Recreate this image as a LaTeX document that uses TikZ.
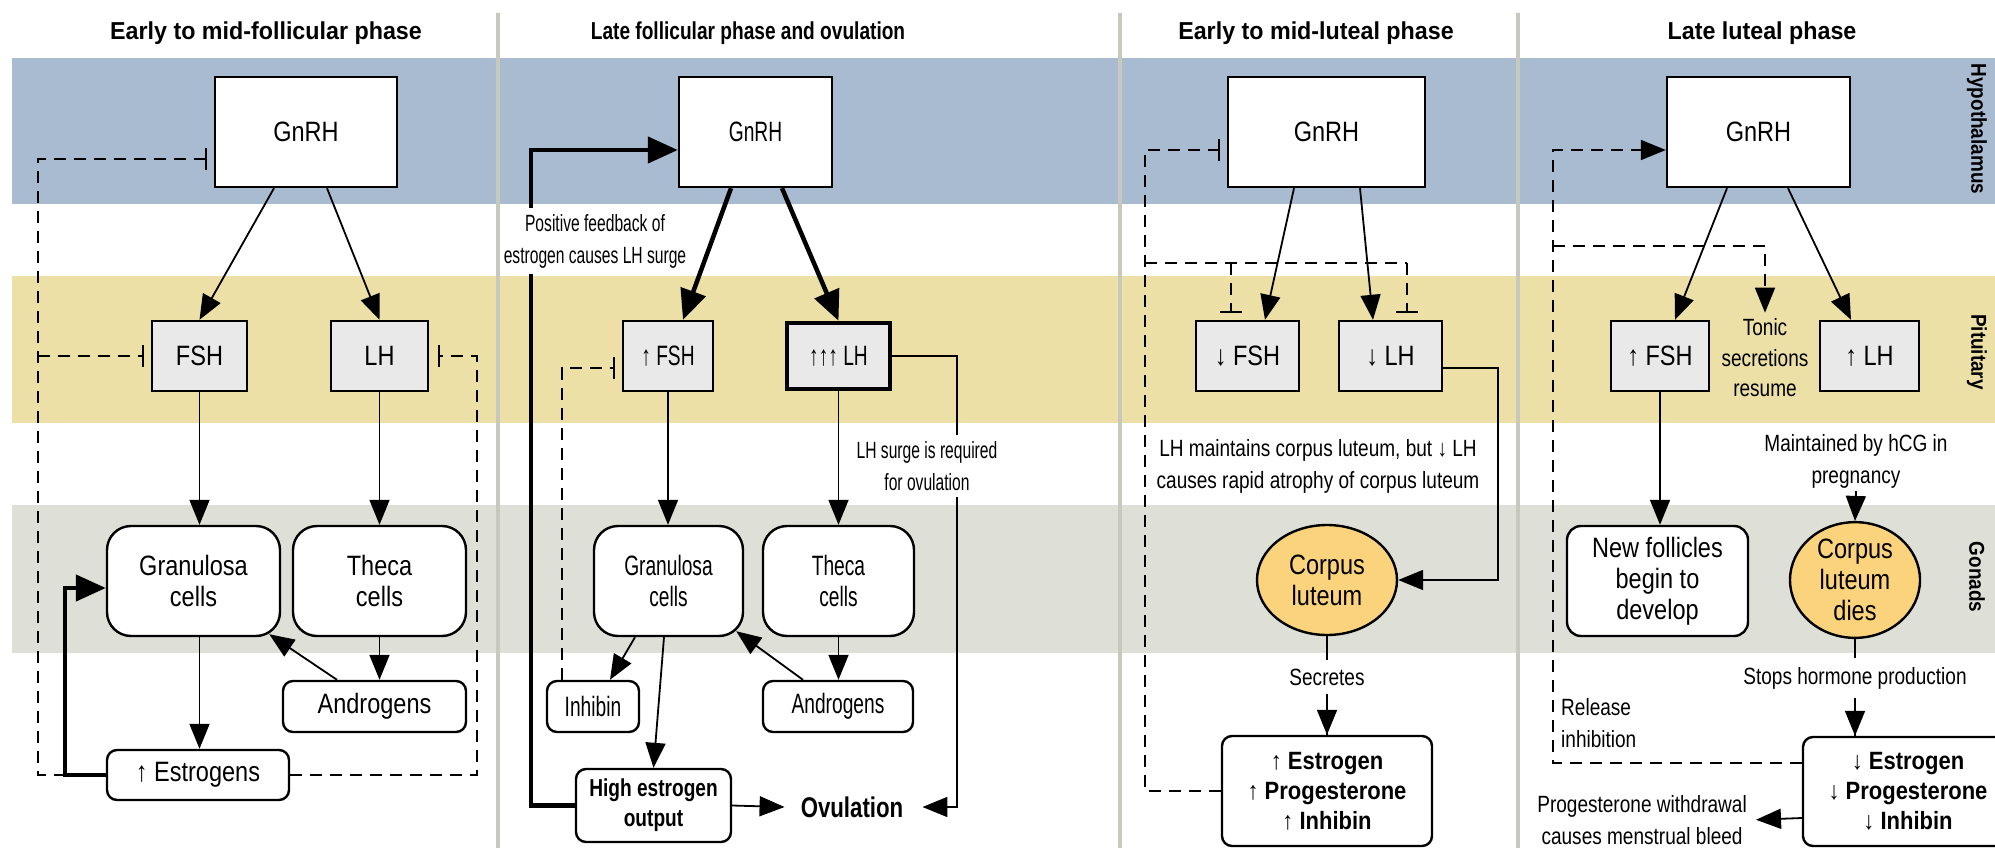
\documentclass[tikz,border=0pt]{standalone}
\usepackage{fontspec}
\usetikzlibrary{arrows.meta,calc,shapes.geometric}
\newfontfamily\fnN[FakeStretch=0.84]{Liberation Sans}
\newfontfamily\fnC[FakeStretch=0.685]{Liberation Sans}
\newfontfamily\fnLC[FakeStretch=0.665]{Liberation Sans}
\newfontfamily\fnL[FakeStretch=0.81]{Liberation Sans}
\newfontfamily\fnT[FakeStretch=0.95]{Liberation Sans}
\newfontfamily\fnTC[FakeStretch=0.78]{Liberation Sans}
\newfontfamily\fnB[FakeStretch=0.88]{Liberation Sans}
\newfontfamily\fnS[FakeStretch=0.88]{Liberation Sans}
\definecolor{bandblue}{RGB}{169,187,209}
\definecolor{bandyellow}{RGB}{236,224,167}
\definecolor{bandgray}{RGB}{222,223,214}
\definecolor{divgray}{RGB}{200,201,190}
\definecolor{boxgray}{RGB}{233,233,233}
\definecolor{corpus}{RGB}{251,211,125}
\begin{document}
\begin{tikzpicture}[x=1pt,y=-1pt,
 box/.style={draw, line width=2.4pt, inner sep=0pt, align=center, fill=white},
 gbox/.style={box, fill=boxgray},
 cell/.style={box, rounded corners=24pt},
 rbox/.style={box, rounded corners=10pt},
 sz/.style 2 args={minimum width=#1pt, minimum height=#2pt},
 fN/.style={font=\fnN\fontsize{28}{31}\selectfont},
 fC/.style={font=\fnC\fontsize{28}{31}\selectfont},
 fL/.style={font=\fnL\fontsize{23.5}{32}\selectfont, align=center, inner sep=3pt},
 fLC/.style={font=\fnLC\fontsize{23.5}{32}\selectfont, align=center, inner sep=3pt},
 fB/.style={font=\fnB\bfseries\fontsize{25}{30}\selectfont},
 ttl/.style={font=\fnT\bfseries\fontsize{24.5}{26}\selectfont},
 ttlc/.style={font=\fnTC\bfseries\fontsize{24.5}{26}\selectfont},
 side/.style={font=\fnS\bfseries\fontsize{21.5}{22}\selectfont, rotate=-90},
 arr/.style={line width=1.8pt, -{Triangle[length=25pt,width=20pt]}},
 tarr/.style={line width=4.5pt, -{Triangle[length=30pt,width=26pt]}},
 dline/.style={line width=1.8pt, dash pattern=on 12pt off 8pt},
 inh/.style={dline, -{Bar[width=22pt]}, shorten >=7pt},
 darr/.style={dline, -{Triangle[length=25pt,width=20pt]}},
 divider/.style={line width=3.5pt, draw=divgray},
]
\useasboundingbox (0,0) rectangle (1995,848);
\clip (0,0) rectangle (1995,848);
% bands
\fill[bandblue] (12,58) rectangle (1995,204);
\fill[bandyellow] (12,276) rectangle (1995,423);
\fill[bandgray] (12,505) rectangle (1995,653);
% dividers
\draw[divider] (498,13) -- (498,848);
\draw[divider] (1120,13) -- (1120,848);
\draw[divider] (1518,13) -- (1518,848);
% titles
\node[ttl] (t1) at (266,33) {Early to mid-follicular phase};
\node[ttlc] (t2) at (748,33) {Late follicular phase and ovulation};
\node[ttl] (t3) at (1316,33) {Early to mid-luteal phase};
\node[ttl] (t4) at (1762,33) {Late luteal phase};
% side labels
\node[side] (sh) at (1977,129) {Hypothalamus};
\node[side] (sp) at (1977,352) {Pituitary};
\node[side] (sg) at (1977,577) {Gonads};

% ===== Panel 1 =====
\node[box, sz={182}{110}, fN] (g1) at (306,132) {GnRH};
\node[gbox, sz={95}{70}, fN] (f1) at (199.5,356) {FSH};
\node[gbox, sz={97}{70}, fN] (l1) at (379.5,356) {LH};
\node[cell, sz={173}{110}, fN] (gr1) at (193.5,581) {Granulosa\\cells};
\node[cell, sz={173}{110}, fN] (th1) at (379.5,581) {Theca\\cells};
\node[rbox, sz={183}{51}, fN] (an1) at (374.5,706.5) {Androgens};
\node[rbox, sz={182}{50}, fN] (es1) at (198,775) {↑ Estrogens};
\coordinate (j1a) at (38,775);
\coordinate (j1b) at (38,356);
\coordinate (j1c) at (477,775);
\coordinate (j1d) at (65,775);
\draw[arr] ([xshift=-32pt]g1.south) -- (f1.north);
\draw[arr] ([xshift=21pt]g1.south) -- (l1.north);
\draw[arr] (f1.south) -- (f1.south |- gr1.north);
\draw[arr] (l1.south) -- (th1.north);
\draw[arr] (f1.south |- gr1.south) -- (f1.south |- es1.north);
\draw[arr] (th1.south) -- (th1.south |- an1.north);
\draw[arr] ([xshift=-37.5pt]an1.north) -- ([xshift=-12pt,yshift=3pt]gr1.south east);
\draw[inh] (es1.west) -- (j1a) |- ([yshift=-27pt]g1.west);
\draw[inh] (j1b) -- (f1.west);
\draw[inh] (es1.east) -- (j1c) |- ([xshift=2pt]l1.east);
\draw[tarr] (es1.west) -- (j1d) |- ([yshift=-7pt]gr1.west);

% ===== Panel 2 =====
\node[box, sz={153}{110}, fC] (g2) at (755.5,132) {GnRH};
\node[gbox, sz={90}{70}, fC] (f2) at (668,356) {↑ FSH};
\node[gbox, line width=4.5pt, sz={103}{66}, fC] (l2) at (838.5,356) {↑↑↑ LH};
\node[cell, sz={149}{110}, fC] (gr2) at (668.5,581) {Granulosa\\cells};
\node[cell, sz={151}{110}, fC] (th2) at (838.5,581) {Theca\\cells};
\node[rbox, sz={92}{51}, fC] (in2) at (593,706.5) {Inhibin};
\node[rbox, sz={150}{51}, fC] (an2) at (838,706.5) {Androgens};
\node[rbox, sz={155}{73}, font=\fnTC\bfseries\fontsize{24.5}{30}\selectfont] (he2) at (653.5,805.5) {High estrogen\\output};
\node[font=\fnTC\bfseries\fontsize{28.5}{30}\selectfont, inner sep=2pt] (ov) at (852,807) {Ovulation};
\draw[tarr] ([xshift=-24.5pt]g2.south) -- ([xshift=15pt]f2.north);
\draw[tarr] ([xshift=26.5pt]g2.south) -- (l2.north);
\draw[arr] (f2.south) -- (f2.south |- gr2.north);
\draw[arr] (l2.south) -- (th2.north);
\draw[arr] (th2.south) -- (th2.south |- an2.north);
\draw[arr] ([xshift=-33.5pt]gr2.south) -- ([xshift=17pt]in2.north);
\draw[arr] ([xshift=-4.5pt]gr2.south) -- (he2.north);
\draw[arr] ([xshift=-35pt]an2.north) -- ([xshift=-8pt,yshift=6pt]gr2.south east);
\draw[arr] (he2.east) -- ([xshift=-14pt]ov.west);
\draw[arr] (l2.east) -- ++(65,0) |- ([xshift=17pt]ov.east);
\draw[inh] ([xshift=-31pt]in2.north) |- ([yshift=-12pt]f2.west);
\draw[tarr] (he2.west) -- ++(-44,0) |- ([yshift=-18pt]g2.west);
\node[fLC, fill=white, inner ysep=6pt] (lab2a) at (595,241) {Positive feedback of\\estrogen causes LH surge};
\node[fLC, fill=white, inner ysep=6pt] (lab2b) at (927,466) {LH surge is required\\for ovulation};

% ===== Panel 3 =====
\node[box, sz={197}{110}, fN] (g3) at (1326.5,132) {GnRH};
\node[gbox, sz={103}{70}, fN] (f3) at (1247.5,356) {↓ FSH};
\node[gbox, sz={103}{70}, fN] (l3) at (1390.5,356) {↓ LH};
\node[ellipse, draw, line width=2.4pt, fill=corpus, inner sep=0pt, sz={140}{110}, fN, align=center] (cl3) at (1327,580) {Corpus\\luteum};
\node[rbox, sz={210}{110}, fB] (e3) at (1327,791) {↑ Estrogen\\↑ Progesterone\\↑ Inhibin};
\node[fL] (lab3) at (1318,466) {LH maintains corpus luteum, but ↓ LH\\causes rapid atrophy of corpus luteum};
\coordinate (j3a) at (1145,791);
\coordinate (j3b) at (1145,263);
\coordinate (j3c) at (1231,263);
\coordinate (j3d) at (1407,263);
\draw[arr] ([xshift=-32.5pt]g3.south) -- ([xshift=17.5pt]f3.north);
\draw[arr] ([xshift=33.5pt]g3.south) -- ([xshift=-17.5pt]l3.north);
\draw[arr] ([yshift=-12pt]l3.east) -- ++(55,0) |- (cl3.east);
\draw[inh] (e3.west) -- (j3a) |- ([yshift=-18pt]g3.west);
\draw[dline] (j3b) -- (j3d);
\draw[inh] (j3c) -- ([xshift=-16.5pt]f3.north);
\draw[inh] (j3d) -- ([xshift=16.5pt]l3.north);
\draw[line width=1.8pt] (cl3.south) -- (cl3.south |- e3.north);
\node[fL, fill=white, inner ysep=9pt] (sec3) at (1327,677) {Secretes};
\draw[arr] (sec3.south) -- (sec3.south |- e3.north);

% ===== Panel 4 =====
\node[box, sz={183}{110}, fN] (g4) at (1758.5,132) {GnRH};
\node[gbox, sz={98}{70}, fN] (f4) at (1660,356) {↑ FSH};
\node[gbox, sz={99}{70}, fN] (l4) at (1869.5,356) {↑ LH};
\node[fL, font=\fnL\fontsize{23.5}{30.5}\selectfont] (ts4) at (1765,358) {Tonic\\secretions\\resume};
\node[box, rounded corners=14pt, sz={181}{110}, fN] (nf4) at (1657.5,581) {New follicles\\begin to\\develop};
\node[ellipse, draw, line width=2.4pt, fill=corpus, inner sep=0pt, sz={130}{108}, fN, align=center] (cd4) at (1855,580) {Corpus\\luteum\\dies};
\node[fL] (mh4) at (1856,461) {Maintained by hCG in\\pregnancy};
\node[rbox, sz={210}{109}, fB] (e4) at (1908,791.5) {↓ Estrogen\\↓ Progesterone\\↓ Inhibin};
\node[fL, align=left, anchor=west] (ri4) at (1558,723) {Release\\inhibition};
\node[fL, anchor=east] (pw4) at (1750,820) {Progesterone withdrawal\\causes menstrual bleed};
\coordinate (j4a) at (1553,763);
\coordinate (j4b) at (1553,246);
\draw[arr] ([xshift=-31.5pt]g4.south) -- ([xshift=15pt]f4.north);
\draw[arr] ([xshift=29.5pt]g4.south) -- ([xshift=-18.5pt]l4.north);
\draw[arr] (f4.south) -- (f4.south |- nf4.north);
\draw[arr] (mh4.south) -- (cd4.north);
\draw[darr] ([yshift=28.5pt]e4.west) -- (j4a) |- ([yshift=-18pt]g4.west);
\draw[darr, shorten >=3pt] (j4b) -| (ts4.north);
\draw[line width=1.8pt] (cd4.south) -- (cd4.south |- e4.north);
\node[fL, fill=white, inner ysep=9pt] (sh4) at (1855,678) {Stops hormone production};
\draw[arr] (sh4.south) -- (sh4.south |- e4.north);
\draw[arr, shorten >=6pt] ([yshift=-26.5pt]e4.west) -- (pw4.east);
\end{tikzpicture}
\end{document}
